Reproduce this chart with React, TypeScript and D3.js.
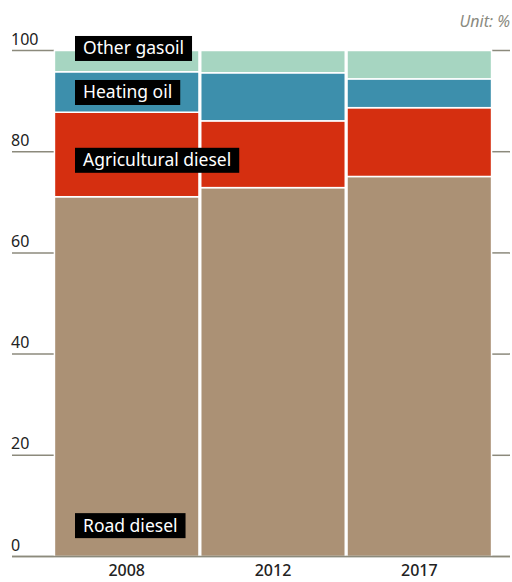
import React, { useEffect, useRef } from "react";
import * as d3 from "d3";

const years = ["2008", "2012", "2017"];
const seriesNames = ["Road diesel", "Agricultural diesel", "Heating oil", "Other gasoil"];
const roadDiesel = [71.1, 72.9, 75.1];
const agriculturalDiesel = [16.7, 13.2, 13.6];
const heatingOil = [8.0, 9.5, 5.7];
const otherGasoil = [4.2, 4.4, 5.6];
const colors = ["#ab9175", "#d52f10", "#3d8fac", "#a6d5c1"];
const yTicks = [0, 20, 40, 60, 80, 100];
// label anchor values (in %) for the series labels on the first bar
const labelValues = [6.1, 78.3, 91.7, 100.4];

const W = 512;
const H = 582;

export default function App() {
  const ref = useRef<SVGSVGElement>(null);
  useEffect(() => {
    const svg = d3.select(ref.current);
    svg.selectAll("*").remove();
    const font = "'Noto Sans', sans-serif";

    const y = d3.scaleLinear().domain([0, 100]).range([556.5, 50.5]);
    const x = d3.scaleBand().domain(years).range([54, 492]).paddingInner(0.012).paddingOuter(0.003);

    const table = years.map((yr, i) => ({
      year: yr,
      "Road diesel": roadDiesel[i],
      "Agricultural diesel": agriculturalDiesel[i],
      "Heating oil": heatingOil[i],
      "Other gasoil": otherGasoil[i],
    }));
    const stack = d3.stack<any>().keys(seriesNames)(table);

    // ticks
    const g = svg.append("g");
    yTicks.forEach((t) => {
      g.append("line")
        .attr("x1", 12).attr("x2", t === 0 ? 510 : 54)
        .attr("y1", y(t)).attr("y2", y(t))
        .attr("stroke", "#8c8a7c").attr("stroke-width", 1.5);
      if (t !== 0)
        g.append("line")
          .attr("x1", 492).attr("x2", 510)
          .attr("y1", y(t)).attr("y2", y(t))
          .attr("stroke", "#8c8a7c").attr("stroke-width", 1.5);
      g.append("text")
        .attr("x", 11).attr("y", y(t) - 6)
        .attr("font-family", font).attr("font-size", 16)
        .attr("fill", "#222")
        .text(String(t));
    });

    // bars
    stack.forEach((s, si) => {
      svg.append("g").selectAll("rect").data(s).join("rect")
        .attr("x", (d: any) => x(d.data.year)!)
        .attr("width", x.bandwidth())
        .attr("y", (d: any) => y(d[1]))
        .attr("height", (d: any) => y(d[0]) - y(d[1]))
        .attr("fill", colors[si])
        .attr("stroke", "#fff")
        .attr("stroke-width", 1.5);
    });
    // baseline redraw
    svg.append("line")
      .attr("x1", 12).attr("x2", 510).attr("y1", y(0)).attr("y2", y(0))
      .attr("stroke", "#8c8a7c").attr("stroke-width", 1.5);

    // x labels
    svg.append("g").selectAll("text").data(years).join("text")
      .attr("x", (d) => x(d)! + x.bandwidth() / 2)
      .attr("y", 576)
      .attr("text-anchor", "middle")
      .attr("font-family", font).attr("font-size", 16).attr("font-weight", 500)
      .attr("fill", "#222")
      .text((d) => d);

    // series labels
    const lx = 83;
    seriesNames.forEach((name, i) => {
      const lg = svg.append("g");
      const txt = lg.append("text")
        .attr("x", lx).attr("y", y(labelValues[i]) + 6)
        .attr("font-family", font).attr("font-size", 17.5)
        .attr("fill", "#fff")
        .text(name);
      const bb = (txt.node() as SVGTextElement).getBBox();
      lg.insert("rect", "text")
        .attr("x", bb.x - 8).attr("y", y(labelValues[i]) - 12.5)
        .attr("width", bb.width + 16).attr("height", 25)
        .attr("fill", "#000");
    });

    svg.append("text")
      .attr("x", 510).attr("y", 27)
      .attr("text-anchor", "end")
      .attr("font-family", font).attr("font-size", 16).attr("font-style", "italic")
      .attr("fill", "#8a8a80")
      .text("Unit: %");
  }, []);
  return (
    <svg ref={ref} width={W} height={H} style={{ position: "absolute", left: 0, top: 0 }} />
  );
}
